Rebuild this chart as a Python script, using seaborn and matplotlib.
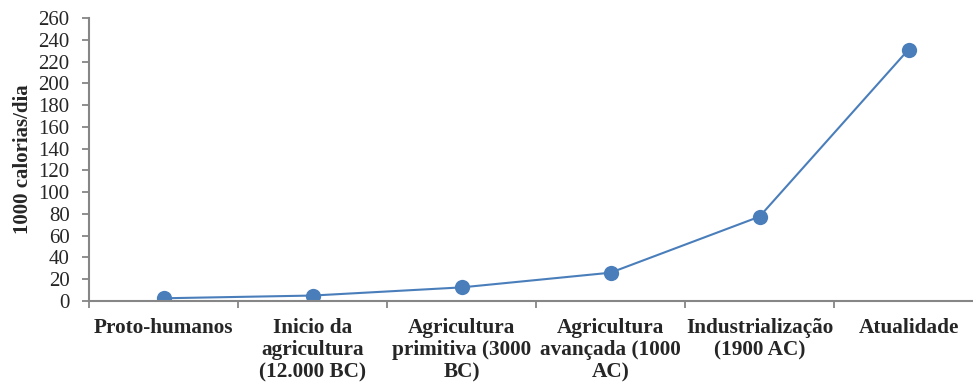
import matplotlib
matplotlib.use("Agg")
import matplotlib.pyplot as plt
import seaborn as sns
import pandas as pd
import numpy as np

categories = ["Proto-humanos", "Inicio da\nagricultura\n(12.000 BC)",
              "Agricultura\nprimitiva (3000\nBC)", "Agricultura\navançada (1000\nAC)",
              "Industrialização\n(1900 AC)", "Atualidade"]
values = [2.5, 5, 12.5, 26, 77.5, 231]
y_ticks = list(range(0, 261, 20))
y_label = "1000 calorias/dia"

sns.set_theme(style="white")
plt.rcParams['font.family'] = ['Liberation Serif', 'DejaVu Serif']

df = pd.DataFrame({"pos": np.arange(len(categories)), "val": values})

fig = plt.figure(figsize=(9.73, 3.85), dpi=100)
ax = fig.add_axes([89/973, 84/385, 894/973, 283/385])
sns.lineplot(data=df, x="pos", y="val", ax=ax, color="#4A7EBB", linewidth=1.5,
             marker="o", markersize=11, markeredgewidth=0, markeredgecolor="#4A7EBB")

ax.set_xlim(-0.5, 5.5)
ax.set_ylim(0, 260)
ax.set_yticks(y_ticks)
ax.set_yticklabels([str(t) for t in y_ticks], fontsize=15)
ax.set_xticks(np.arange(len(categories)))
ax.set_xticklabels(categories, fontsize=15.3, fontweight="bold", linespacing=1.17)
ax.set_xticks(np.arange(-0.5, 6, 1), minor=True)
ax.tick_params(axis="x", which="major", length=0, pad=12)
ax.tick_params(axis="x", which="minor", length=5, width=1.3, color="#868686", direction="out", bottom=True)
ax.tick_params(axis="y", length=5, width=1.3, color="#868686", direction="out", left=True, pad=9)
for lbl in ax.get_xticklabels():
    lbl.set_verticalalignment("top")
    lbl.set_multialignment("center")

ax.set_xlabel("")
ax.set_ylabel(y_label, fontsize=15, fontweight="bold", labelpad=4)
for s in ["top", "right"]:
    ax.spines[s].set_visible(False)
for s in ["left", "bottom"]:
    ax.spines[s].set_color("#868686")
    ax.spines[s].set_linewidth(1.5)
ax.grid(False)

fig.savefig("out.png", dpi=100)
